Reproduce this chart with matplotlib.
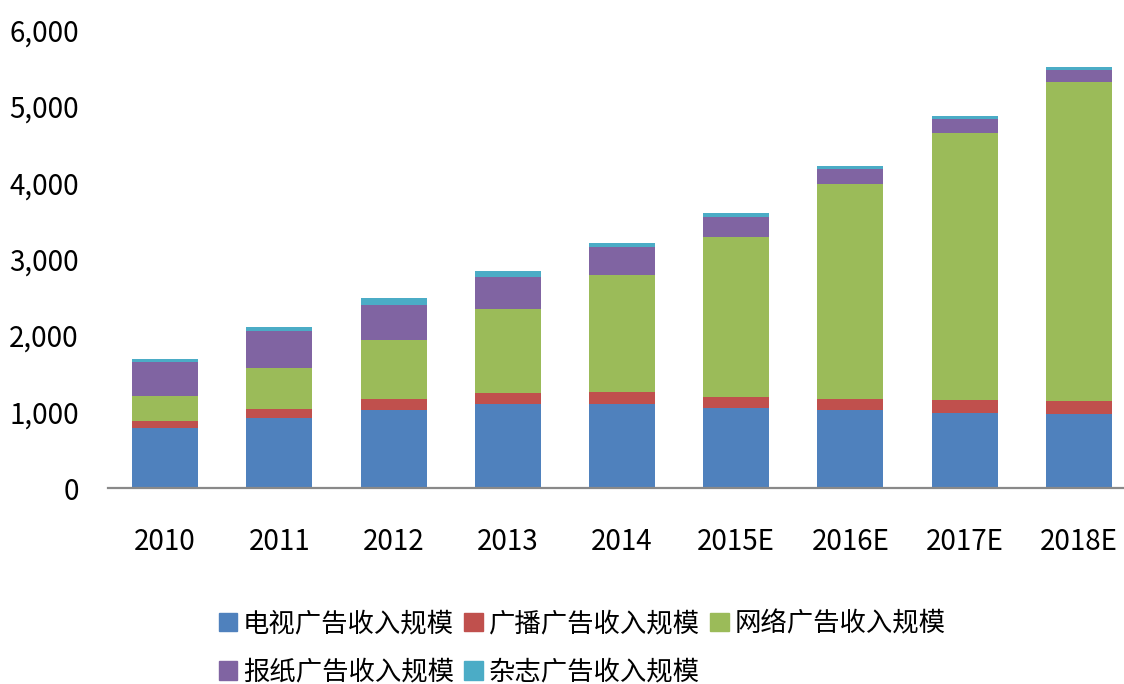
import numpy as np
import matplotlib
matplotlib.use("Agg")
import matplotlib.pyplot as plt
from matplotlib.patches import Patch
from matplotlib.ticker import FuncFormatter

plt.rcParams['font.family'] = ['Noto Sans CJK SC', 'DejaVu Sans']

years = ["2010", "2011", "2012", "2013", "2014", "2015E", "2016E", "2017E", "2018E"]

# 广告收入规模
tv       = [780, 917, 1022, 1105, 1105, 1052, 1017, 987, 973]
radio    = [100, 118, 144, 144, 157, 144, 153, 170, 171]
internet = [327, 537, 773, 1100, 1533, 2097, 2817, 3498, 4179]
paper    = [446, 485, 459, 419, 366, 262, 196, 183, 157]
magazine = [39, 53, 92, 79, 53, 52, 40, 40, 40]

series = [tv, radio, internet, paper, magazine]
labels = ["电视广告收入规模", "广播广告收入规模", "网络广告收入规模",
          "报纸广告收入规模", "杂志广告收入规模"]
colors = ["#4F81BD", "#C0504D", "#9BBB59", "#8064A2", "#4BACC6"]

fig = plt.figure(figsize=(11.24, 6.84), dpi=100)
ax = fig.add_axes([108 / 1124, 1 - 488 / 684, 1028 / 1124, 458 / 684])

x = np.arange(len(years))
bottom = np.zeros(len(years))
for vals, c in zip(series, colors):
    ax.bar(x, vals, width=0.578, bottom=bottom, color=c, linewidth=0)
    bottom += np.array(vals)

ax.set_xlim(-0.5, len(years) - 0.5)
ax.set_ylim(0, 6000)
ax.set_yticks(range(0, 6001, 1000))
ax.yaxis.set_major_formatter(FuncFormatter(lambda v, p: f"{int(v):,}"))
ax.set_xticks(x)
ax.set_xticklabels(years)

for s in ["top", "right", "left"]:
    ax.spines[s].set_visible(False)
ax.spines["bottom"].set_color("#898989")
ax.spines["bottom"].set_linewidth(1.6)

ax.tick_params(axis="y", length=0, pad=21, labelsize=20)
ax.tick_params(axis="x", length=0, pad=28, labelsize=20)

handles = [Patch(color=c) for c in colors]
order = [0, 3, 1, 4, 2]
fig.legend([handles[i] for i in order], [labels[i] for i in order],
           ncol=3, loc="center", bbox_to_anchor=(582 / 1124, 1 - 648 / 684),
           frameon=False, fontsize=19, handlelength=0.7, handleheight=0.7,
           handletextpad=0.22, columnspacing=0.4, labelspacing=0.8,
           borderpad=0)

fig.savefig("out.png", dpi=100)
